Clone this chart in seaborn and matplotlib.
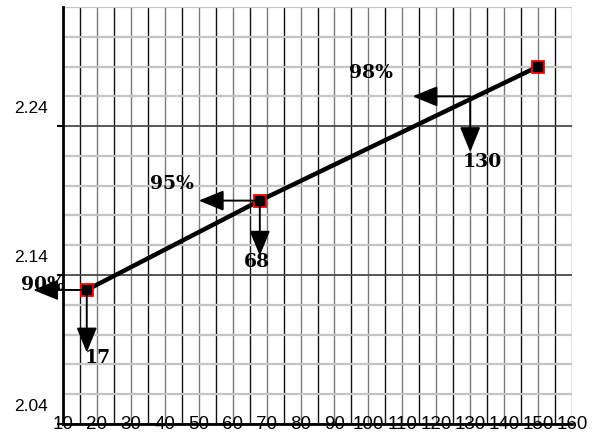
import matplotlib
matplotlib.use("Agg")
import matplotlib.pyplot as plt
import matplotlib.transforms as mtransforms
import numpy as np
import pandas as pd
import seaborn as sns

# ---- data ----
x_vals = [17, 68, 150]
y_vals = [2.13, 2.19, 2.28]

x_ticks = list(range(10, 161, 10))
x_minor = list(range(15, 160, 10))
y_ticks = [2.04, 2.14, 2.24]
y_tick_labels = ["2.04", "2.14", "2.24"]
y_minor = [round(2.04 + 0.02 * k, 2) for k in range(15)]

# annotation arrows: start -> tip
arrow_starts = [(17, 2.13), (17, 2.13), (68, 2.19), (68, 2.19), (130, 2.26), (130, 2.26)]
arrow_tips = [(1.2, 2.13), (17, 2.088), (50, 2.19), (68, 2.153), (113, 2.26), (130, 2.2226)]

# annotation texts
note_texts = ["90%", "17", "95%", "68", "98%", "130"]
note_x = [4.0, 20.3, 42.1, 67.2, 100.8, 133.5]
note_y = [2.1333, 2.0843, 2.201, 2.1487, 2.2756, 2.2158]

sns.set_theme(style="white")
plt.rcParams["font.family"] = ["Liberation Sans", "DejaVu Sans"]

fig = plt.figure(figsize=(5.92, 4.37), dpi=100)
ax = fig.add_axes([63 / 592, 13 / 437, 509 / 592, 417 / 437])

df = pd.DataFrame({"x": x_vals, "y": y_vals})
sns.lineplot(data=df, x="x", y="y", ax=ax, color="black", linewidth=3.2,
             marker="s", markersize=9, markerfacecolor="black",
             markeredgecolor="red", markeredgewidth=1.3, zorder=5)

ax.set_xlim(10, 160)
ax.set_ylim(2.04, 2.32)
ax.set_xlabel("")
ax.set_ylabel("")

ax.set_xticks(x_ticks)
ax.set_xticks(x_minor, minor=True)
ax.set_yticks(y_ticks)
ax.set_yticklabels(y_tick_labels)
ax.set_yticks(y_minor, minor=True)

ax.set_axisbelow(True)
ax.xaxis.grid(True, which="major", color="#7a7a7a", linewidth=1.0)
ax.xaxis.grid(True, which="minor", color="#111111", linewidth=1.0)
ax.yaxis.grid(True, which="minor", color="#c4c4c4", linewidth=1.6)
ax.yaxis.grid(True, which="major", color="#4a4a4a", linewidth=1.3)

for s in ["top", "right"]:
    ax.spines[s].set_visible(False)
for s in ["left", "bottom"]:
    ax.spines[s].set_visible(True)
    ax.spines[s].set_color("black")
    ax.spines[s].set_linewidth(2.0)

ax.tick_params(axis="x", which="both", length=0, pad=-6, labelsize=13.5, labelcolor="black")
ax.tick_params(axis="y", which="major", length=4, width=1.5, color="black", direction="out",
               pad=7, labelsize=12.5, labelcolor="black", left=True)
ax.tick_params(axis="y", which="minor", length=0)

off = mtransforms.ScaledTranslation(0, 0.19, fig.dpi_scale_trans)
for lab in ax.get_yticklabels():
    lab.set_transform(lab.get_transform() + off)

for t, xx, yy in zip(note_texts, note_x, note_y):
    ax.text(xx, yy, t, ha="center", va="center", fontsize=13.5, fontweight="bold",
            family="DejaVu Serif", color="black", zorder=6, clip_on=False)

for st, tp in zip(arrow_starts, arrow_tips):
    ax.annotate("", xy=tp, xytext=st, annotation_clip=False, zorder=7,
                arrowprops=dict(arrowstyle="-|>,head_length=1.1,head_width=0.45",
                                color="black", lw=1.4, shrinkA=0, shrinkB=0,
                                mutation_scale=14))

fig.savefig("out.png", dpi=100)
